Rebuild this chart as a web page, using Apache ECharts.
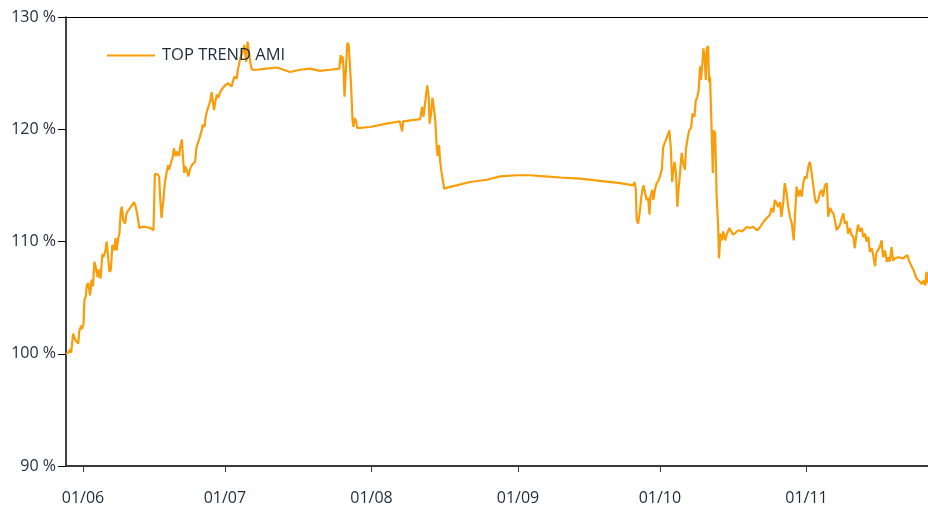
<!DOCTYPE html>
<html>
<head>
<meta charset="utf-8">
<script src="https://cdn.jsdelivr.net/npm/echarts@6/dist/echarts.min.js"></script>
<style>
html,body{margin:0;padding:0;background:#fff;}
#chart{width:928px;height:508px;}
</style>
</head>
<body>
<div id="chart"></div>
<script>
// Days since 1 June (fractional)
const days = [
-3.6,-3.1,-2.7,-2.5,-2.1,-1.6,-1.3,-1.0,-0.8,-0.4,-0.3,0.1,0.3,0.6,0.8,1.1,1.5,1.8,2.1,2.4,2.7,3.1,3.3,3.7,4.1,4.3,4.7,5.0,5.4,5.6,5.9,6.2,6.6,6.9,7.1,7.5,7.7,8.0,8.2,8.5,8.9,9.2,9.6,9.9,10.5,10.8,11.2,11.6,11.9,12.4,13.1,14.2,14.9,
15.2,15.7,16.1,16.3,16.6,17.0,17.3,17.7,18.0,18.2,18.6,19.0,19.2,19.6,19.9,20.3,20.5,20.9,21.1,21.4,21.6,21.9,22.3,22.6,23.0,23.3,23.7,24.0,24.4,24.7,25.1,25.3,25.7,25.9,26.2,26.5,26.9,27.2,27.4,27.7,28.0,28.3,28.6,29.0,29.3,29.7,30.0,30.4,30.7,31.1,31.4,31.8,32.1,32.5,32.8,33.2,33.4,33.7,34.1,34.5,34.8,35.2,35.4,35.7,36.7,38.8,41.0,42.4,43.8,45.9,48.0,50.1,52.2,
54.2,54.5,54.8,54.9,55.1,55.3,55.6,55.9,56.2,56.5,56.7,57.0,57.2,57.4,57.7,58.0,60.7,64.2,67.0,67.3,67.5,67.7,71.3,71.7,72.0,72.2,72.5,72.8,73.1,73.3,73.6,73.9,74.2,74.5,74.8,75.0,75.3,75.5,75.8,76.4,77.0,79.0,81.8,85.4,88.2,91.8,94.5,97.7,100.9,105.1,109.3,113.6,
116.4,116.6,116.9,117.1,117.4,117.8,118.1,118.5,118.8,119.2,119.5,119.8,120.0,120.4,120.6,121.0,121.3,121.7,122.0,122.4,122.7,123.1,123.4,123.8,124.0,124.3,124.6,124.8,125.1,125.4,125.7,126.0,126.2,126.6,126.9,127.3,127.5,127.9,128.2,128.6,128.9,129.3,129.6,129.9,130.2,130.5,130.7,131.0,131.2,131.5,131.7,131.9,132.2,132.4,132.6,132.9,133.2,133.4,133.7,134.0,134.3,134.5,134.8,135.1,135.4,135.8,136.1,136.7,137.5,138.6,139.4,140.4,141.0,141.7,142.6,143.2,144.2,145.3,145.6,146.0,146.3,146.7,147.0,147.4,147.7,148.1,148.4,148.8,149.1,149.5,149.9,150.3,150.6,150.9,151.3,151.6,152.0,152.3,152.7,153.0,153.4,153.7,154.1,154.4,154.8,155.1,155.5,155.8,156.2,156.5,156.9,157.3,157.6,158.0,158.3,158.7,159.0,159.4,159.7,160.1,160.4,160.8,161.1,161.5,161.8,162.2,162.5,162.9,163.2,163.6,163.9,164.3,164.7,165.0,165.4,165.7,166.1,166.4,166.8,167.1,167.5,167.8,168.2,168.5,168.9,169.2,169.6,170.0,170.3,170.6,171.0,171.3,171.7,172.4,173.5,173.8,174.3,174.7,175.2,175.6,175.9,176.3,176.6,177.0,177.4,177.7,178.1,178.4,178.7
];
// TOP TREND AMI, in percent
const topTrendAmi = [
100.0,100.1,100.4,100.1,101.8,101.2,101.1,100.9,102.0,102.5,102.2,102.6,104.8,105.1,106.1,106.3,105.2,106.6,106.0,108.2,107.7,106.8,107.5,106.7,108.9,108.6,109.1,110.0,110.1,107.3,107.5,109.7,109.2,110.3,109.2,110.4,110.7,112.8,113.1,111.9,111.6,112.5,112.8,112.9,113.3,113.5,113.0,112.1,111.2,111.3,111.3,111.2,111.0,
116.0,116.0,115.8,114.0,112.1,113.7,115.2,116.2,116.8,116.4,117.0,117.6,118.3,117.6,118.0,117.6,118.3,119.1,117.7,116.1,116.7,116.4,115.8,116.4,116.8,116.7,117.1,118.4,118.9,119.3,119.9,120.4,120.2,121.0,121.6,121.7,122.5,123.3,123.2,121.7,122.5,123.1,122.8,123.3,123.5,123.6,123.9,123.8,124.1,124.2,123.8,124.4,124.7,124.5,125.4,126.2,126.5,126.8,127.5,126.0,127.8,127.9,125.9,125.3,125.3,125.4,125.5,125.3,125.1,125.3,125.4,125.2,125.3,
125.4,126.6,125.9,126.5,125.4,122.9,125.3,127.7,127.5,125.3,123.8,120.8,120.2,121.0,120.8,120.1,120.2,120.5,120.7,120.7,119.8,120.7,120.9,122.0,121.1,121.0,122.9,123.9,122.9,120.5,121.4,122.8,121.9,120.8,118.4,117.6,118.6,117.3,116.2,114.7,114.8,115.0,115.3,115.5,115.8,115.9,115.9,115.8,115.7,115.6,115.4,115.2,
115.0,115.3,114.7,111.9,111.6,112.8,114.1,115.0,114.5,113.7,113.9,112.4,114.0,114.6,113.7,114.7,115.2,115.4,115.8,116.4,118.4,118.9,119.0,119.6,119.9,118.4,115.3,116.1,117.1,116.1,113.1,114.9,115.8,117.9,117.0,116.4,118.2,119.3,119.9,120.1,121.4,121.1,122.6,122.8,123.5,125.6,124.4,125.9,127.2,126.2,124.4,127.2,127.4,124.2,124.7,120.5,116.1,119.9,119.6,114.0,111.6,108.5,110.7,110.1,110.9,110.1,110.6,111.2,110.6,111.0,110.9,111.3,111.2,111.3,111.0,111.3,111.9,112.4,113.0,112.6,113.7,113.4,113.1,113.5,112.2,113.5,115.2,114.3,113.2,112.2,111.6,110.1,112.5,114.9,114.0,114.6,114.0,115.2,115.8,115.6,116.7,117.1,116.1,116.1,113.8,113.4,113.7,114.3,114.6,114.0,115.0,115.2,112.2,113.0,112.7,112.5,111.9,111.0,111.2,111.5,112.0,112.5,111.6,111.8,110.7,111.2,110.6,110.4,109.4,110.7,111.5,110.9,111.2,110.4,110.7,110.0,110.4,109.1,109.4,108.8,107.8,109.0,109.3,109.5,110.1,108.6,109.2,108.2,108.6,108.2,109.5,108.3,108.5,108.6,108.5,108.6,108.8,108.3,107.8,107.5,107.6,106.7,106.6,106.4,106.2,106.5,106.1,107.3,106.3
];
// x axis tick positions (days since 1 June) and their labels
const tickDays = [0, 30, 61, 92, 122, 153];
const tickLabels = ['01/06', '01/07', '01/08', '01/09', '01/10', '01/11'];
const yTicks = [90, 100, 110, 120, 130];
const seriesName = 'TOP TREND AMI';

const textColor = '#1e2b3b';
const fontFamily = '"Open Sans", "Noto Sans", sans-serif';
const lineColor = '#f99d0a';
const xMin = -3.6, xMax = 178.7;

const chart = echarts.init(document.getElementById('chart'), null, {renderer: 'canvas'});
chart.setOption({
  animation: false,
  backgroundColor: '#ffffff',
  grid: {left: 66, right: 0, top: 17, bottom: 42, containLabel: false},
  legend: {
    data: [{name: seriesName, icon: 'rect'}],
    left: 107, top: 47, padding: 0,
    itemWidth: 48, itemHeight: 2, itemGap: 10,
    textStyle: {color: textColor, fontSize: 16.5, fontFamily: fontFamily, padding: [0, 0, 0, 2]}
  },
  xAxis: [{
    type: 'value', min: xMin, max: xMax,
    axisLine: {show: true, onZero: false, lineStyle: {color: '#3a3a3a', width: 2}},
    axisTick: {show: true, inside: false, length: 6, lineStyle: {color: '#3a3a3a', width: 1}, customValues: tickDays},
    axisLabel: {
      show: true, margin: 24, color: textColor, fontSize: 16, fontFamily: fontFamily,
      customValues: tickDays,
      formatter: function (v) { const i = tickDays.indexOf(v); return i >= 0 ? tickLabels[i] : ''; }
    },
    splitLine: {show: false}
  }, {
    type: 'value', min: xMin, max: xMax, position: 'top',
    axisLine: {show: true, onZero: false, lineStyle: {color: '#000', width: 1}},
    axisTick: {show: false}, axisLabel: {show: false}, splitLine: {show: false}
  }],
  yAxis: {
    type: 'value', min: 90, max: 130, interval: 10,
    axisLine: {show: true, onZero: false, lineStyle: {color: '#000', width: 1.5}},
    axisTick: {show: true, length: 8, lineStyle: {color: '#000', width: 1}},
    axisLabel: {
      margin: 10, color: textColor, fontSize: 16, fontFamily: fontFamily,
      customValues: yTicks,
      formatter: function (v) { return v + ' %'; }
    },
    splitLine: {show: false}
  },
  series: [{
    name: seriesName,
    type: 'line',
    xAxisIndex: 0,
    showSymbol: false, symbol: 'none',
    lineStyle: {color: lineColor, width: 2.2},
    itemStyle: {color: lineColor},
    data: days.map(function (d, i) { return [d, topTrendAmi[i]]; })
  }]
});
</script>
</body>
</html>
